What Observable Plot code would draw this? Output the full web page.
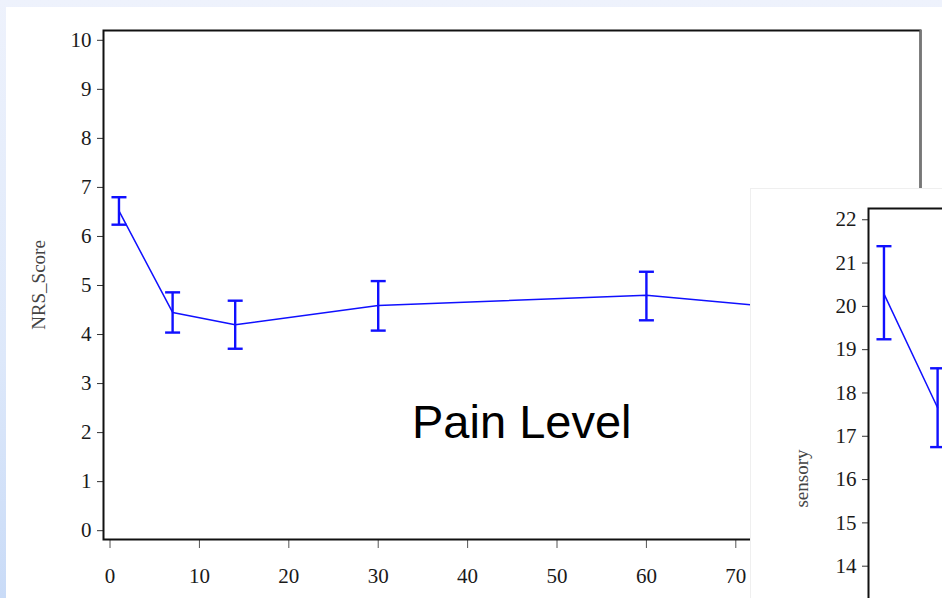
<!DOCTYPE html>
<html>
<head>
<meta charset="utf-8">
<script src="https://cdn.jsdelivr.net/npm/d3@7"></script>
<script src="https://cdn.jsdelivr.net/npm/@observablehq/plot@0.6"></script>
<style>
  html, body { margin: 0; padding: 0; }
  body {
    width: 942px; height: 598px; overflow: hidden; position: relative;
    background: linear-gradient(180deg, #eef2fc 0%, #dde8fa 60%, #c9dbf7 100%);
  }
  #panel1 { position: absolute; left: 6px; top: 7px; width: 936px; height: 591px; background: #fff; }
  #chart1 { position: absolute; left: 0; top: 0; }
  #panel2 {
    position: absolute; left: 750px; top: 188px; width: 192px; height: 410px;
    background: #fff; overflow: hidden; box-sizing: border-box;
    border-left: 1px solid #efefef; border-top: 1px solid #efefef;
  }
  #chart2 { position: absolute; left: 0; top: 0; width: 956px; }
  #title {
    position: absolute; left: 412px; top: 398px; font-family: "Liberation Sans", Arial, sans-serif;
    font-size: 47px; line-height: 47px; color: #000; white-space: nowrap;
  }
  svg { max-width: none !important; }
</style>
</head>
<body>
<div id="panel1"></div>
<div id="chart1"></div>
<div id="title">Pain Level</div>
<div id="panel2"><div id="chart2"></div></div>
<script>
// ---- data ----
const days = [1, 7, 14, 30, 60, 90];
const nrsMean = [6.52, 4.45, 4.20, 4.59, 4.80, 4.30];
const nrsLower = [6.24, 4.04, 3.71, 4.08, 4.29, 3.80];
const nrsUpper = [6.80, 4.86, 4.69, 5.09, 5.28, 4.80];

const sensoryDays = [1, 7];
const sensoryMean = [20.29, 17.66];
const sensoryLower = [19.24, 16.75];
const sensoryUpper = [21.39, 18.57];

const dayTicks = [0, 10, 20, 30, 40, 50, 60, 70];
const nrsTicks = [0, 1, 2, 3, 4, 5, 6, 7, 8, 9, 10];
const sensoryTicks = [14, 15, 16, 17, 18, 19, 20, 21, 22];

// ---- tables ----
const nrs = days.map((d, i) => ({day: d, mean: nrsMean[i], lo: nrsLower[i], hi: nrsUpper[i]}));
const sensory = sensoryDays.map((d, i) => ({day: d, mean: sensoryMean[i], lo: sensoryLower[i], hi: sensoryUpper[i]}));

const blue = "#1010ff";
const capSymbol = {
  draw(ctx, size) {
    const w = Math.sqrt(size / Math.PI);
    ctx.moveTo(-w, 0);
    ctx.lineTo(w, 0);
  }
};
const xDomain = [-0.73, 90.66];
const fontStyle = {fontFamily: "'Liberation Serif', 'Times New Roman', serif", fontSize: "21px", color: "#1a1a1a", background: "transparent", overflow: "visible", maxWidth: "none"};

function seriesMarks(data) {
  return [
    Plot.line(data, {x: "day", y: "mean", stroke: blue, strokeWidth: 1.5}),
    Plot.ruleX(data, {x: "day", y1: "lo", y2: "hi", stroke: blue, strokeWidth: 2.4}),
    Plot.dot(data, {x: "day", y: "hi", symbol: capSymbol, r: 7.5, stroke: blue, strokeWidth: 2.4, fill: "none"}),
    Plot.dot(data, {x: "day", y: "lo", symbol: capSymbol, r: 7.5, stroke: blue, strokeWidth: 2.4, fill: "none"})
  ];
}

function yAxis(ticks, label, offset) {
  return [
    Plot.axisY({ticks, tickSize: 6, tickPadding: 6, stroke: "#333", label: null}),
    Plot.axisY({ticks: [], tickSize: 0, label, labelAnchor: "center", labelOffset: offset,
      labelArrow: "none", fontSize: 19, fill: "#444"})
  ];
}

const chart1 = Plot.plot({
  width: 942, height: 598,
  marginLeft: 103, marginRight: 22, marginTop: 30, marginBottom: 59,
  style: fontStyle,
  x: {domain: xDomain},
  y: {domain: [-0.18, 10.2]},
  marks: [
    ...yAxis(nrsTicks, "NRS_Score", 72),
    Plot.axisX({ticks: dayTicks, tickSize: 9, tickPadding: 20, stroke: "#555", label: null}),
    ...seriesMarks(nrs),
    Plot.frame({stroke: "#111", strokeWidth: 2}),
    Plot.ruleX([xDomain[1]], {stroke: "#777", strokeWidth: 2})
  ]
});
document.getElementById("chart1").appendChild(chart1);

const chart2 = Plot.plot({
  width: 956, height: 618,
  marginLeft: 117, marginRight: 22, marginTop: 19, marginBottom: 59,
  style: fontStyle,
  x: {domain: xDomain, axis: null},
  y: {domain: [9.79, 22.26]},
  marks: [
    ...yAxis(sensoryTicks, "sensory", 74),
    ...seriesMarks(sensory),
    Plot.frame({stroke: "#111", strokeWidth: 2})
  ]
});
document.getElementById("chart2").appendChild(chart2);
</script>
</body>
</html>
